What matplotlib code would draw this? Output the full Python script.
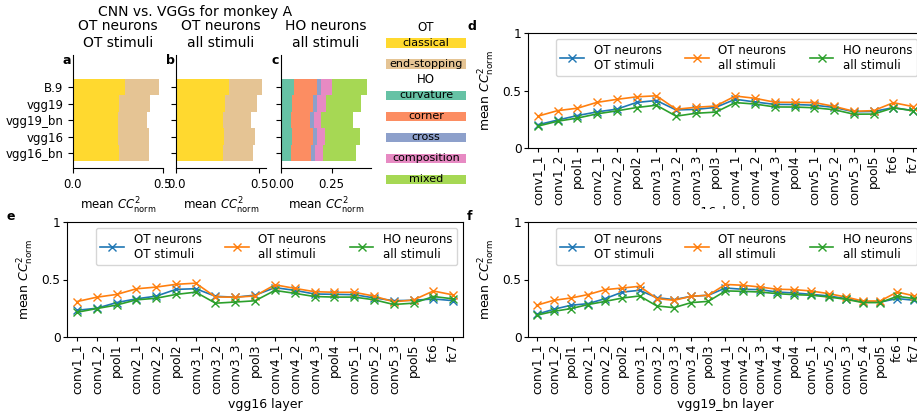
import matplotlib
matplotlib.use('Agg')
import matplotlib.pyplot as plt
from matplotlib.patches import Rectangle
import numpy as np

W, H = 917, 416

nets = ['B.9', 'vgg19', 'vgg19_bn', 'vgg16', 'vgg16_bn']

# a: OT neurons, OT stimuli
a_classical = [0.290, 0.256, 0.251, 0.251, 0.256]
a_endstop = [0.188, 0.171, 0.160, 0.171, 0.166]
# b: OT neurons, all stimuli
b_classical = [0.316, 0.296, 0.280, 0.290, 0.284]
b_endstop = [0.199, 0.189, 0.170, 0.184, 0.178]
# c: HO neurons, all stimuli
c_curvature = [0.066, 0.056, 0.051, 0.056, 0.051]
c_corner = [0.110, 0.100, 0.090, 0.100, 0.095]
c_cross = [0.024, 0.020, 0.020, 0.020, 0.020]
c_composition = [0.050, 0.049, 0.039, 0.044, 0.044]
c_mixed = [0.174, 0.169, 0.154, 0.169, 0.159]

ot_names = ['classical', 'end-stopping']
ho_names = ['curvature', 'corner', 'cross', 'composition', 'mixed']
ot_colors = ['#ffd92f', '#e5c494']
ho_colors = ['#66c2a5', '#fc8d62', '#8da0cb', '#e78ac3', '#a6d854']

layers16 = ['conv1_1', 'conv1_2', 'pool1', 'conv2_1', 'conv2_2', 'pool2',
            'conv3_1', 'conv3_2', 'conv3_3', 'pool3', 'conv4_1', 'conv4_2',
            'conv4_3', 'pool4', 'conv5_1', 'conv5_2', 'conv5_3', 'pool5',
            'fc6', 'fc7']
layers19 = ['conv1_1', 'conv1_2', 'pool1', 'conv2_1', 'conv2_2', 'pool2',
            'conv3_1', 'conv3_2', 'conv3_3', 'conv3_4', 'pool3', 'conv4_1',
            'conv4_2', 'conv4_3', 'conv4_4', 'pool4', 'conv5_1', 'conv5_2',
            'conv5_3', 'conv5_4', 'pool5', 'fc6', 'fc7']

# d: vgg16_bn
d_ot_ot = [0.202, 0.243, 0.282, 0.314, 0.338, 0.396, 0.413, 0.331, 0.336, 0.353,
           0.424, 0.400, 0.379, 0.378, 0.372, 0.353, 0.315, 0.318, 0.351, 0.325]
d_ot_all = [0.277, 0.325, 0.346, 0.397, 0.423, 0.445, 0.454, 0.337, 0.354, 0.365,
            0.452, 0.432, 0.398, 0.397, 0.395, 0.362, 0.319, 0.325, 0.394, 0.360]
d_ho_all = [0.190, 0.233, 0.260, 0.297, 0.323, 0.352, 0.372, 0.277, 0.302, 0.312,
            0.395, 0.382, 0.357, 0.356, 0.350, 0.333, 0.294, 0.295, 0.349, 0.324]
# e: vgg16
e_ot_ot = [0.232, 0.250, 0.299, 0.332, 0.355, 0.414, 0.420, 0.354, 0.346, 0.364,
           0.429, 0.406, 0.374, 0.371, 0.368, 0.340, 0.316, 0.319, 0.331, 0.316]
e_ot_all = [0.308, 0.346, 0.370, 0.419, 0.434, 0.458, 0.468, 0.348, 0.346, 0.357,
            0.454, 0.423, 0.394, 0.389, 0.389, 0.356, 0.306, 0.322, 0.400, 0.366]
e_ho_all = [0.215, 0.247, 0.278, 0.323, 0.337, 0.370, 0.390, 0.294, 0.304, 0.315,
            0.405, 0.380, 0.352, 0.347, 0.347, 0.324, 0.283, 0.294, 0.352, 0.332]
# f: vgg19_bn
f_ot_ot = [0.197, 0.241, 0.276, 0.290, 0.334, 0.391, 0.406, 0.342, 0.325, 0.354,
           0.363, 0.426, 0.415, 0.412, 0.391, 0.383, 0.371, 0.357, 0.334, 0.304,
           0.304, 0.334, 0.319]
f_ot_all = [0.276, 0.319, 0.339, 0.369, 0.412, 0.426, 0.441, 0.334, 0.319, 0.354,
            0.363, 0.457, 0.450, 0.435, 0.415, 0.412, 0.400, 0.377, 0.348, 0.313,
            0.313, 0.391, 0.357]
f_ho_all = [0.189, 0.223, 0.247, 0.282, 0.310, 0.339, 0.357, 0.270, 0.255, 0.299,
            0.310, 0.401, 0.397, 0.391, 0.377, 0.368, 0.363, 0.348, 0.328, 0.299,
            0.299, 0.354, 0.334]

series_labels = ['OT neurons\nOT stimuli', 'OT neurons\nall stimuli', 'HO neurons\nall stimuli']
cc_label = r'mean $CC^2_{\rm norm}$'


def px_rect(left, top, width, height):
    # pixel box (from top-left) -> figure fraction
    return [left / W, 1 - (top + height) / H, width / W, height / H]


fig = plt.figure(figsize=(W / 100, H / 100), dpi=100)

# ---- stacked bar panels a, b, c ----
bar_panels = [
    ('a', 73, 'OT neurons\nOT stimuli', [a_classical, a_endstop], ot_colors, [0, 0.5], ['0.0', '0.5']),
    ('b', 176, 'OT neurons\nall stimuli', [b_classical, b_endstop], ot_colors, [0, 0.5], ['0.0', '0.5']),
    ('c', 281, 'HO neurons\nall stimuli',
     [c_curvature, c_corner, c_cross, c_composition, c_mixed], ho_colors, [0, 0.25], ['0.00', '0.25']),
]
y = np.arange(len(nets))
for letter, left, title, parts, colors, xt, xtl in bar_panels:
    ax = fig.add_axes(px_rect(left, 55, 90, 113))
    base = np.zeros(len(nets))
    for vals, col in zip(parts, colors):
        ax.barh(y, vals, left=base, height=1.0, color=col, linewidth=0)
        base = base + np.array(vals)
    ax.set_ylim(4.9, -1.95)
    ax.set_yticks(y)
    ax.set_yticklabels(nets if letter == 'a' else [])
    ax.set_xticks(xt)
    ax.set_xticklabels(xtl)
    ax.tick_params(labelsize=8.5)
    ax.spines['top'].set_visible(False)
    ax.spines['right'].set_visible(False)
    ax.set_title(title, fontsize=10, pad=6)
    ax.set_xlabel(cc_label, fontsize=8.5)
    fig.text((left - 6) / W, 1 - 60 / H, letter, fontsize=9, fontweight='bold',
             ha='center', va='center')

fig.text(195 / W, 1 - 12 / H, 'CNN vs. VGGs for monkey A', fontsize=10,
         ha='center', va='center')

# ---- colour key ----
axk = fig.add_axes(px_rect(386, 17, 80, 173))
axk.set_xlim(0, 1)
axk.set_ylim(7.0, -1.238)
axk.axis('off')
pos = -0.75
for header, names, colors in [('OT', ot_names, ot_colors), ('HO', ho_names, ho_colors)]:
    axk.text(0.5, pos, header, ha='center', va='center', fontsize=8.5)
    pos += 0.75
    for nm, col in zip(names, colors):
        axk.barh(pos, 1, height=0.43, color=col, linewidth=0)
        axk.text(0.5, pos, nm, ha='center', va='center', fontsize=8)
        pos += 1
    pos -= 0.25


# ---- layer panels d, e, f ----
def layer_panel(rect, layers, ot_ot, ot_all, ho_all, xlabel, labelpad=3):
    ax = fig.add_axes(rect)
    x = np.arange(len(layers))
    for vals, col, lab in zip([ot_ot, ot_all, ho_all],
                              ['tab:blue', 'tab:orange', 'tab:green'], series_labels):
        ax.plot(x, vals, color=col, marker='x', lw=1.2, ms=6, label=lab)
    ax.set_xlim(-0.5, len(layers) - 0.5)
    ax.set_ylim(0, 1)
    ax.set_yticks([0, 0.5, 1])
    ax.set_yticklabels(['0', '0.5', '1'])
    ax.set_xticks(x)
    ax.set_xticklabels(layers, rotation=90)
    ax.tick_params(labelsize=8.7, length=3, pad=1.6)
    ax.set_ylabel(cc_label, fontsize=9)
    ax.set_xlabel(xlabel, fontsize=9, labelpad=labelpad)
    ax.legend(loc='upper right', ncol=3, fontsize=8.5)
    return ax


layer_panel(px_rect(528, 33, 395, 115), layers16, d_ot_ot, d_ot_all, d_ho_all,
            'vgg16_bn layer', labelpad=1)
layer_panel(px_rect(67, 222, 396, 115), layers16, e_ot_ot, e_ot_all, e_ho_all, 'vgg16 layer')
layer_panel(px_rect(528, 222, 395, 115), layers19, f_ot_ot, f_ot_all, f_ho_all, 'vgg19_bn layer')

# the bottom row hides most of panel d's x label
fig.add_artist(Rectangle((610 / W, 1 - 221.5 / H), 240 / W, 12.5 / H,
                         transform=fig.transFigure, facecolor='white',
                         edgecolor='none', zorder=1))

for letter, xp, yp in [('d', 472, 27), ('e', 11, 216), ('f', 470, 216)]:
    fig.text(xp / W, 1 - yp / H, letter, fontsize=9, fontweight='bold',
             ha='center', va='center', zorder=3)

fig.savefig('out.png', dpi=100)
